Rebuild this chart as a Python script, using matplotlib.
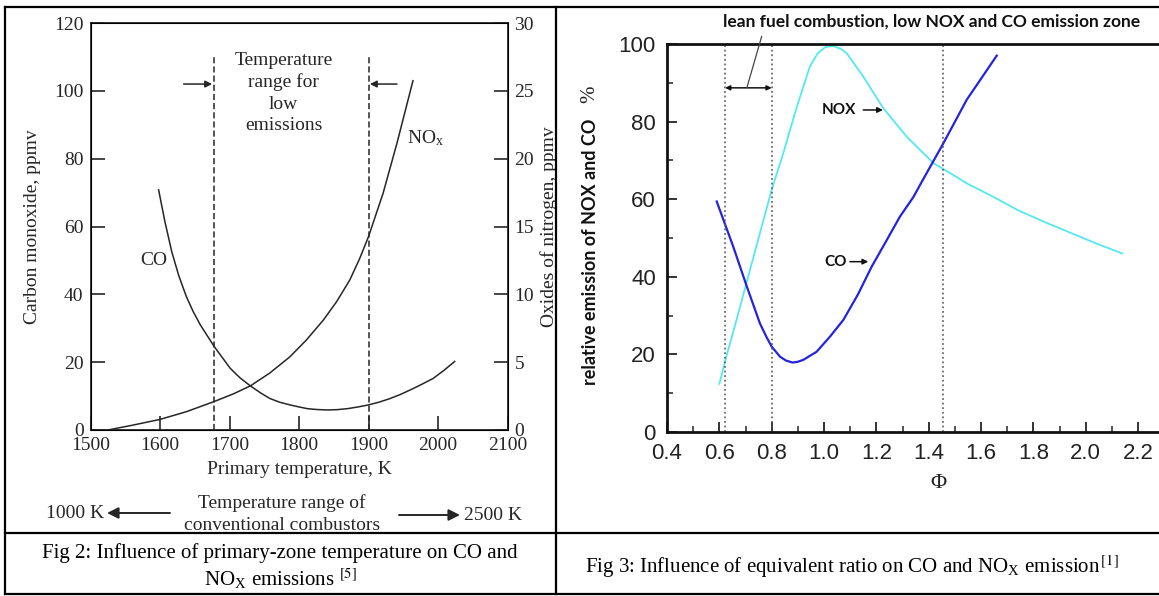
import matplotlib.pyplot as plt
from matplotlib.lines import Line2D
from matplotlib.ticker import MultipleLocator, FormatStrFormatter

W, H = 1159, 596

# Fig 2 - CO (left axis, ppmv) vs primary temperature (K)
co_temp = [1598, 1607, 1617, 1627, 1638, 1648, 1658, 1678, 1701, 1715, 1730,
           1745, 1758, 1772, 1787, 1800, 1812, 1825, 1840, 1855, 1870, 1885,
           1900, 1915, 1930, 1945, 1960, 1975, 1993, 2008, 2024]
co_ppmv = [70.8, 61.5, 52.5, 45.5, 39.3, 34.8, 31, 24.6, 18.2, 15.4, 13.0,
           10.9, 9.3, 8.2, 7.4, 6.8, 6.3, 6.05, 5.9, 6.0, 6.3, 6.8,
           7.4, 8.2, 9.2, 10.4, 11.8, 13.3, 15.2, 17.5, 20.2]

# Fig 2 - NOx (right axis, ppmv)
nox_temp = [1525, 1560, 1600, 1638, 1678, 1705, 1730, 1758, 1787, 1810, 1835,
            1854, 1873, 1887, 1900, 1921, 1941, 1964]
nox_ppmv = [0, 0.35, 0.78, 1.35, 2.1, 2.65, 3.25, 4.2, 5.4, 6.6, 8.1,
            9.45, 11.05, 12.6, 14.25, 17.45, 21.15, 25.75]

# Fig 3 - relative emission (%) vs equivalence ratio
phi_nox = [0.60, 0.625, 0.66, 0.70, 0.75, 0.80, 0.844, 0.896, 0.946, 0.975,
           1.005, 1.035, 1.065, 1.087, 1.15, 1.227, 1.316, 1.418, 1.50, 1.545,
           1.647, 1.74, 1.84, 1.94, 2.04, 2.14]
nox_rel = [12.4, 19, 27.5, 37.5, 50, 62.4, 71.8, 83.8, 94.2, 97.5,
           99.2, 99.5, 98.7, 97.6, 91.6, 83.4, 76.1, 69.3, 66.0, 64.1,
           60.6, 57.2, 54.2, 51.4, 48.6, 46]
phi_co = [0.59, 0.653, 0.705, 0.755, 0.78, 0.80, 0.832, 0.855, 0.88, 0.90,
          0.921, 0.972, 1.023, 1.074, 1.13, 1.182, 1.24, 1.29, 1.341, 1.377,
          1.456, 1.545, 1.66]
co_rel = [59.4, 47.8, 37.5, 28, 24.5, 22, 19.4, 18.4, 17.9, 18.1,
          18.6, 20.7, 24.6, 28.9, 35.5, 42.6, 49.5, 55.5, 60.5, 64.9,
          74.4, 85.6, 97]

low_range = [1677, 1900]          # K
lean_zone = [0.622, 0.80, 1.453]  # phi

plt.rcParams['font.family'] = 'Liberation Serif'
plt.rcParams['mathtext.fontset'] = 'stix'

fig = plt.figure(figsize=(W / 100, H / 100), dpi=100)


def fx(px):
    return px / W


def fy(py):
    return 1 - py / H


ink = '#262626'
fs = 14

# ---- left chart ----
ax = fig.add_axes([fx(90.5), fy(430), 417 / W, 407 / H])
ax.plot(co_temp, co_ppmv, color=ink, lw=1.1)
ax.set_xlim(1500, 2100)
ax.set_ylim(0, 120)
ax.set_xticks(range(1500, 2101, 100))
ax.set_yticks(range(0, 121, 20))
ax.tick_params(direction='in', length=10, width=1.2, labelsize=fs,
               colors=ink, pad=5)
for s in ax.spines.values():
    s.set_linewidth(1.3)
    s.set_color(ink)
ax.set_xlabel('Primary temperature, K', fontsize=fs, color=ink)
ax.xaxis.set_label_coords(0.502, -0.077)
ax.set_ylabel('Carbon monoxide, ppmv', fontsize=fs, color=ink,
              va='center', ha='center')
ax.yaxis.set_label_coords((33 - 90.5) / 417, 0.5)

ax2 = ax.twinx()
ax2.plot(nox_temp, nox_ppmv, color=ink, lw=1.1)
ax2.set_ylim(0, 30)
ax2.set_yticks(range(0, 31, 5))
ax2.tick_params(direction='in', length=10, width=1.2, labelsize=fs,
                colors=ink, pad=5)
ax2.set_ylabel('Oxides of nitrogen, ppmv', fontsize=fs, color=ink,
               va='center', ha='center')
ax2.yaxis.set_label_coords((549 - 90.5) / 417, 0.5)

ax.vlines(low_range, 0, 110, colors=ink, lw=1.1, linestyles=(0, (4, 2)))
ax.annotate('', xy=(1675, 102), xytext=(1634, 102),
            arrowprops=dict(arrowstyle='-|>', color=ink, lw=1.1,
                            mutation_scale=10, shrinkA=0, shrinkB=0))
ax.annotate('', xy=(1902, 102), xytext=(1941, 102),
            arrowprops=dict(arrowstyle='-|>', color=ink, lw=1.1,
                            mutation_scale=10, shrinkA=0, shrinkB=0))
ax.text(1778, 99.4, 'Temperature\nrange for\nlow\nemissions', ha='center',
        va='center', fontsize=fs, color=ink, linespacing=1.32)
ax.text(1955, 86, 'NO$_\\mathregular{x}$', fontsize=fs, color=ink,
        va='center')
ax.text(1571, 50, 'CO', fontsize=fs, color=ink, va='center')

# conventional combustor range under the left chart
fig.text(fx(75), fy(513), '1000 K', ha='center', va='center', fontsize=fs,
         color=ink)
fig.text(fx(282), fy(503), 'Temperature range of', ha='center', va='center',
         fontsize=fs, color=ink)
fig.text(fx(282), fy(526), 'conventional combustors', ha='center',
         va='center', fontsize=fs, color=ink)
fig.text(fx(493), fy(515), '2500 K', ha='center', va='center', fontsize=fs,
         color=ink)
ax.annotate('', xy=(107, H - 513), xytext=(170, H - 513),
            xycoords='figure pixels', textcoords='figure pixels',
            arrowprops=dict(arrowstyle='-|>', color=ink, lw=1.4,
                            mutation_scale=17, shrinkA=0, shrinkB=0))
ax.annotate('', xy=(460, H - 515), xytext=(399, H - 515),
            xycoords='figure pixels', textcoords='figure pixels',
            arrowprops=dict(arrowstyle='-|>', color=ink, lw=1.4,
                            mutation_scale=17, shrinkA=0, shrinkB=0))

# ---- right chart ----
sans = 'Liberation Sans'
bold = ['Lato', 'DejaVu Sans']
ax3 = fig.add_axes([fx(667), fy(432), (W - 667) / W, 388 / H])
ax3.plot(phi_nox, nox_rel, color='#55e8f0', lw=1.3)
ax3.plot(phi_co, co_rel, color='#2424e0', lw=1.6)
ax3.set_xlim(0.4, 0.4 + (W - 667) / 261.7)
ax3.set_ylim(0, 100)
ax3.xaxis.set_major_locator(MultipleLocator(0.2))
ax3.xaxis.set_minor_locator(MultipleLocator(0.1))
ax3.xaxis.set_major_formatter(FormatStrFormatter('%.1f'))
ax3.yaxis.set_major_locator(MultipleLocator(20))
ax3.yaxis.set_minor_locator(MultipleLocator(10))
ax3.tick_params(which='major', direction='in', length=7, width=1.3,
                labelsize=16, labelfontfamily=sans, colors='#222222', pad=8)
ax3.tick_params(which='minor', direction='in', length=4, width=1.1,
                colors='#222222')
ax3.spines['right'].set_visible(False)
for k in ['top', 'left', 'bottom']:
    ax3.spines[k].set_linewidth(2)
    ax3.spines[k].set_color('#111111')
ax3.set_xlabel('Φ', fontsize=16, color='#222222')
ax3.xaxis.set_label_coords((938 - 667) / (W - 667), -0.108)
ax3.set_ylabel('relative emission of NOX and CO', fontsize=13,
               fontweight='bold', family=bold, color='#111111',
               va='center', ha='center')
ax3.yaxis.set_label_coords((591 - 667) / (W - 667), (432 - 252) / 388)
fig.text(fx(590), fy(94), '%', rotation=90, ha='center', va='center',
         fontsize=15, color='#222222')

ax3.vlines(lean_zone, 0, 100, colors='#555555', lw=1.1,
           linestyles=(0, (1.2, 1.8)))
ax3.annotate('', xy=(0.622, 88.7), xytext=(0.80, 88.7),
             arrowprops=dict(arrowstyle='<|-|>', color='#111111', lw=1.1,
                             mutation_scale=7, shrinkA=0, shrinkB=0))
ax3.annotate('', xy=(0.705, 88.7), xytext=(0.762, 102),
             arrowprops=dict(arrowstyle='-', color='#444444', lw=0.9,
                             shrinkA=0, shrinkB=0), annotation_clip=False)
fig.text(fx(932), fy(22), 'lean fuel combustion, low NOX and CO emission zone',
         ha='center', va='center', fontsize=12.5, fontweight='bold',
         family=bold, color='#111111')
ax3.text(0.99, 83, 'NOX', fontsize=11, fontweight='bold', family=bold,
         va='center', color='#111111')
ax3.annotate('', xy=(1.225, 83), xytext=(1.15, 83),
             arrowprops=dict(arrowstyle='-|>', color='#111111', lw=1.1,
                             mutation_scale=8, shrinkA=0, shrinkB=0))
ax3.text(1.0, 43.9, 'CO', fontsize=11, fontweight='bold', family=bold,
         va='center', color='#111111')
ax3.annotate('', xy=(1.169, 43.9), xytext=(1.099, 43.9),
             arrowprops=dict(arrowstyle='-|>', color='#111111', lw=1.1,
                             mutation_scale=8, shrinkA=0, shrinkB=0))

# ---- table frame and captions ----
frame = [((5, W), (7, 7)), ((5, W), (533, 533)), ((5, W), (594, 594)),
         ((5, 5), (7, 594)), ((556, 556), (7, 594))]
for xs, ys in frame:
    fig.add_artist(Line2D([fx(v) for v in xs], [fy(v) for v in ys],
                          color='black', lw=1.6, transform=fig.transFigure))

fig.text(fx(280), fy(553),
         'Fig 2: Influence of primary-zone temperature on CO and',
         ha='center', va='center', fontsize=15)
fig.text(fx(280), fy(579), 'NO$_\\mathregular{X}$ emissions $^{[5]}$',
         ha='center', va='center', fontsize=15)
fig.text(fx(852), fy(567),
         'Fig 3: Influence of equivalent ratio on CO and NO$_\\mathregular{X}$'
         ' emission$^{\\,[1]}$', ha='center', va='center', fontsize=15)

fig.savefig('out.png', dpi=100)
